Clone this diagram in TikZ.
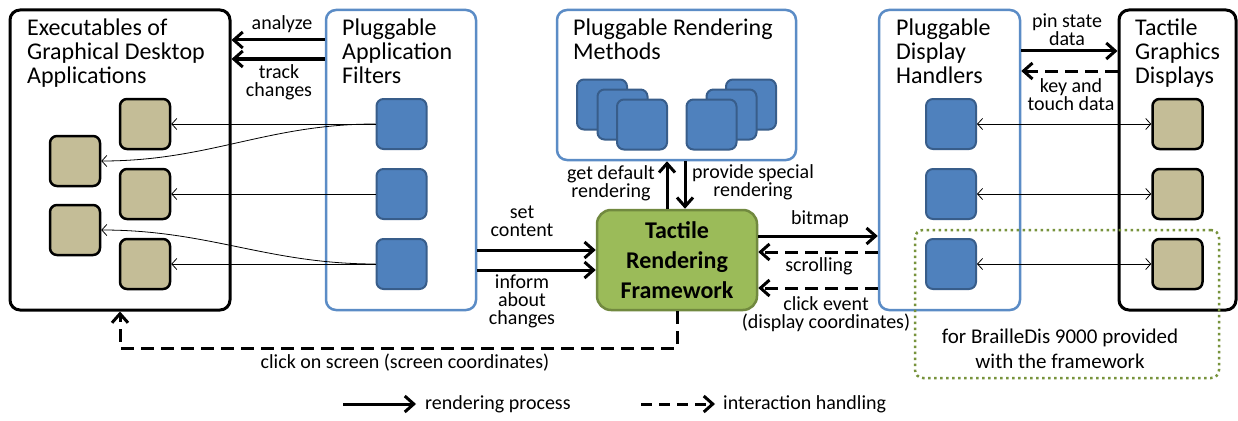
\documentclass[tikz,border=0pt]{standalone}
\usepackage{fontspec}
\setmainfont{Carlito}
\usetikzlibrary{arrows.meta,calc}
\definecolor{boxblue}{HTML}{5B8CC6}
\definecolor{sqblue}{HTML}{4F81BD}
\definecolor{sqblueb}{HTML}{385D8A}
\definecolor{tanf}{HTML}{C4BD97}
\definecolor{grnf}{HTML}{9BBB59}
\definecolor{grnb}{HTML}{71893F}
\definecolor{dotg}{HTML}{77933C}
\tikzset{
  blackbox/.style={draw=black, line width=3pt, rounded corners=10pt, inner sep=0},
  bluebox/.style={draw=boxblue, line width=2.5pt, rounded corners=10pt, inner sep=0},
  sq/.style={rounded corners=7pt, minimum width=50pt, minimum height=50pt, inner sep=0},
  bluesq/.style={sq, fill=sqblue, draw=sqblueb, line width=2pt},
  tansq/.style={sq, fill=tanf, draw=black, line width=2.5pt},
  thickarr/.style={line width=3pt, -{Straight Barb[length=9pt,width=16pt]}},
  dasharr/.style={thickarr, dash pattern=on 13pt off 7pt},
  thinarr/.style={line width=0.8pt, -{Straight Barb[length=5pt,width=11pt]}},
  thinboth/.style={line width=0.8pt, {Straight Barb[length=5pt,width=11pt]}-{Straight Barb[length=5pt,width=11pt]}},
  lbl/.style={font=\fontsize{20}{18}\selectfont, align=center, inner sep=0},
  ttl/.style={font=\fontsize{24}{24}\selectfont, align=left, anchor=north west, inner sep=0},
}
\begin{document}
\begin{tikzpicture}[x=1pt,y=-1pt]
\useasboundingbox[fill=white] (0,0) rectangle (1238,420);

% big boxes
\node[blackbox, minimum width=220pt, minimum height=300pt] (exe) at (120,160) {};
\node[bluebox, minimum width=150pt, minimum height=300pt] (filt) at (401,160) {};
\node[bluebox, minimum width=239pt, minimum height=150pt] (rnd) at (676.5,85) {};
\node[draw=grnb, fill=grnf, line width=2.5pt, rounded corners=14pt, minimum width=160pt, minimum height=100pt, inner sep=0,
      font=\fontsize{24}{30}\selectfont\bfseries, align=center] (grn) at (677,260) {Tactile\\Rendering\\Framework};
\node[bluebox, minimum width=141pt, minimum height=300pt] (disp) at (949.5,160) {};
\node[blackbox, minimum width=117pt, minimum height=300pt] (tgd) at (1177.5,160) {};

% titles
\node[ttl] (t1) at (27,19) {Executables of\\Graphical Desktop\\Applications};
\node[ttl] (t2) at (342,19) {Pluggable\\Application\\Filters};
\node[ttl] (t3) at (573,19) {Pluggable Rendering\\Methods};
\node[ttl] (t4) at (896,19) {Pluggable\\Display\\Handlers};
\node[ttl] (t5) at (1135,19) {Tactile\\Graphics\\Displays};

% application squares
\node[tansq] (ta1) at (145,124) {};
\node[tansq] (ta2) at (145,194) {};
\node[tansq] (ta3) at (145,264) {};
\node[tansq] (tl1) at (75,161) {};
\node[tansq] (tl2) at (75,230) {};
% filter squares
\node[bluesq] (fb1) at (401.5,124) {};
\node[bluesq] (fb2) at (401.5,194) {};
\node[bluesq] (fb3) at (401.5,264) {};
% rendering method stacks
\node[bluesq] (ra1) at (602,104.5) {};
\node[bluesq] (ra2) at (622.5,114.5) {};
\node[bluesq] (ra3) at (642,124.5) {};
\node[bluesq] (rb1) at (751,104.5) {};
\node[bluesq] (rb2) at (731.5,114.5) {};
\node[bluesq] (rb3) at (711.5,124.5) {};
% display squares
\node[bluesq] (db1) at (951,124) {};
\node[bluesq] (db2) at (951,194) {};
\node[bluesq] (db3) at (951,264) {};
\node[tansq] (dt1) at (1177.5,124) {};
\node[tansq] (dt2) at (1177.5,194) {};
\node[tansq] (dt3) at (1177.5,264) {};

% thin connectors
\draw[thinarr] (fb1.west) -- (ta1.east);
\draw[thinarr] (fb2.west) -- (ta2.east);
\draw[thinarr] (fb3.west) -- (ta3.east);
\draw[thinarr] (fb1.west) to[out=180,in=0] (tl1.east);
\draw[thinarr] (fb3.west) to[out=180,in=0] (tl2.east);
\draw[thinboth] (db1.east) -- (dt1.west);
\draw[thinboth] (db2.east) -- (dt2.west);
\draw[thinboth] (db3.east) -- (dt3.west);

% thick connectors
\draw[thickarr] (filt.west |- 0,40) -- (exe.east |- 0,40);
\draw[thickarr] (filt.west |- 0,59) -- (exe.east |- 0,59);
\node[lbl] (l1) at (282,24) {analyze};
\node[lbl] (l2) at (279,82) {track\\changes};

\draw[thickarr] (filt.east |- 0,250) -- (grn.west |- 0,250);
\draw[thickarr] (filt.east |- 0,270) -- (grn.west |- 0,270);
\node[lbl] (l3) at (522,221) {set\\content};
\node[lbl] (l4) at (522,301) {inform\\about\\changes};

\draw[thickarr] (grn.north -| 667,0) -- (rnd.south -| 667,0);
\draw[thickarr] (rnd.south -| 685,0) -- (grn.north -| 685,0);
\node[lbl] (l5) at (611,183) {get default\\rendering};
\node[lbl] (l6) at (753,182) {provide special\\rendering};

\draw[thickarr] (grn.east |- 0,236) -- (disp.west |- 0,236);
\draw[dasharr] (disp.west |- 0,252) -- (grn.east |- 0,252);
\draw[dasharr] (disp.west |- 0,288) -- (grn.east |- 0,288);
\node[lbl] (l7) at (820,219) {bitmap};
\node[lbl] (l8) at (819,266) {scrolling};
\node[lbl] (l9) at (826,314) {click event\\(display coordinates)};

\draw[thickarr] (disp.east |- 0,51) -- (tgd.west |- 0,51);
\draw[dasharr] (tgd.west |- 0,71) -- (disp.east |- 0,71);
\node[lbl] (l10) at (1067,30) {pin state\\data};
\node[lbl] (l11) at (1071,95) {key and\\touch data};

\draw[dasharr] (grn.south) -- (grn.south |- 0,348) -- (exe.south |- 0,348) -- (exe.south);
\node[lbl] (l12) at (405,363) {click on screen (screen coordinates)};

% dotted group
\node[draw=dotg, line width=2.5pt, dash pattern=on 2.5pt off 3.5pt, rounded corners=8pt,
      minimum width=304pt, minimum height=148pt, inner sep=0] (brd) at (1067,304) {};
\node[font=\fontsize{21}{25}\selectfont, align=center, inner sep=0] (l13) at (1060,349) {for BrailleDis 9000 provided\\with the framework};

% legend
\coordinate (lg1) at (343,404);
\coordinate (lg1e) at (416,404);
\node[lbl, anchor=west] (lt1) at (425,404) {rendering process};
\draw[thickarr] (lg1) -- (lg1e);
\coordinate (lg2) at (641,404);
\coordinate (lg2e) at (715,404);
\node[lbl, anchor=west] (lt2) at (723,404) {interaction handling};
\draw[dasharr, dash pattern=on 11pt off 7pt] (lg2) -- (lg2e);
\end{tikzpicture}
\end{document}
